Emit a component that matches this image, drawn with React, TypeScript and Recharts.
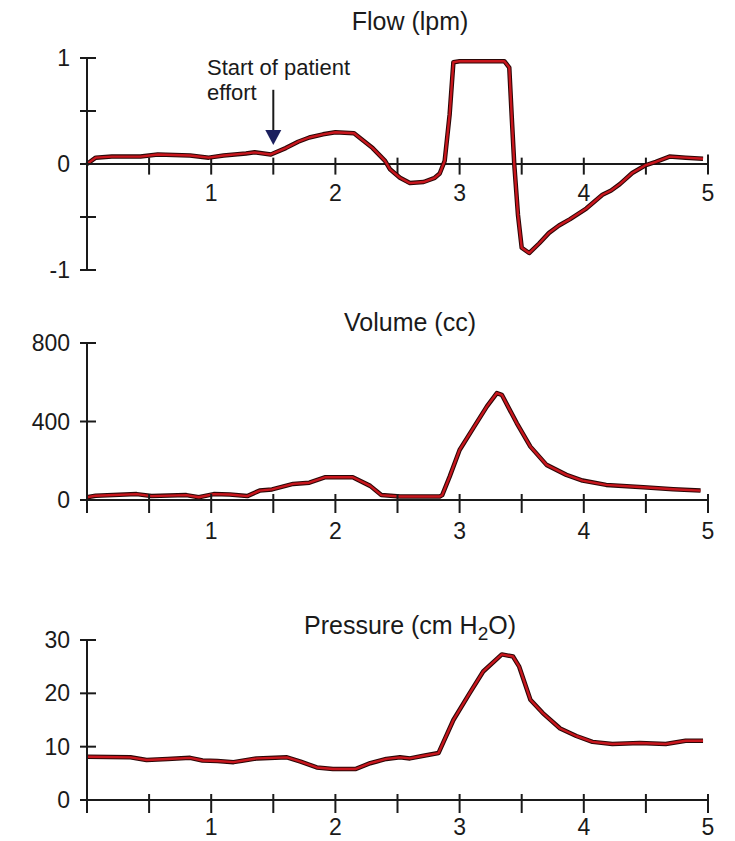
import React from 'react';
import { LineChart, Line, XAxis, YAxis, ReferenceLine, ReferenceDot } from 'recharts';

const FONT = "'Liberation Sans', Arial, Helvetica, sans-serif";
const INK = '#1a1a1a';
const RED = '#c8161d';
const OUTLINE = '#2b0606';

// time axis (seconds)
const xTicks = [0, 0.5, 1, 1.5, 2, 2.5, 3, 3.5, 4, 4.5, 5];
const xLabels = [1, 2, 3, 4, 5];

// Flow (lpm)
const flowT = [0, 0.07, 0.2, 0.43, 0.57, 0.7, 0.83, 0.98, 1.1, 1.28, 1.35, 1.48, 1.6, 1.7, 1.79, 1.9, 2.0, 2.15, 2.3, 2.4, 2.44, 2.52, 2.6, 2.71, 2.8, 2.84, 2.88, 2.92, 2.95, 3.0, 3.36, 3.4, 3.42, 3.44, 3.47, 3.5, 3.56, 3.64, 3.72, 3.8, 3.89, 4.02, 4.15, 4.22, 4.29, 4.39, 4.5, 4.58, 4.69, 4.82, 4.96];
const flowV = [0, 0.06, 0.07, 0.07, 0.09, 0.085, 0.08, 0.06, 0.08, 0.1, 0.11, 0.09, 0.15, 0.21, 0.25, 0.28, 0.3, 0.29, 0.15, 0.03, -0.05, -0.13, -0.18, -0.17, -0.13, -0.09, 0.03, 0.47, 0.96, 0.97, 0.97, 0.91, 0.44, 0.0, -0.48, -0.79, -0.84, -0.75, -0.65, -0.58, -0.52, -0.42, -0.29, -0.25, -0.19, -0.085, -0.01, 0.02, 0.07, 0.06, 0.05];
const flowTicks = [-1, -0.5, 0, 0.5, 1];
const flowLabels = [-1, 0, 1];

// Volume (cc)
const volT = [0, 0.07, 0.4, 0.52, 0.8, 0.9, 1.02, 1.15, 1.29, 1.39, 1.49, 1.66, 1.79, 1.92, 2.14, 2.28, 2.37, 2.52, 2.84, 2.86, 2.92, 3.0, 3.11, 3.22, 3.3, 3.34, 3.46, 3.57, 3.7, 3.86, 3.99, 4.18, 4.48, 4.72, 4.94];
const volV = [14, 22, 30, 20, 25, 14, 30, 28, 20, 48, 54, 82, 88, 116, 116, 72, 25, 18, 18, 25, 119, 255, 366, 477, 545, 536, 392, 272, 179, 128, 99, 77, 65, 55, 48];
const volTicks = [0, 400, 800];

// Pressure (cm H2O)
const presT = [0, 0.35, 0.48, 0.65, 0.83, 0.93, 1.05, 1.18, 1.37, 1.61, 1.72, 1.85, 1.98, 2.16, 2.28, 2.41, 2.52, 2.6, 2.71, 2.83, 2.95, 3.08, 3.19, 3.34, 3.43, 3.48, 3.57, 3.67, 3.81, 3.94, 4.07, 4.23, 4.45, 4.66, 4.82, 4.96];
const presV = [8.1, 8.0, 7.5, 7.7, 7.9, 7.4, 7.3, 7.1, 7.8, 8.0, 7.2, 6.1, 5.8, 5.8, 6.9, 7.7, 8.0, 7.8, 8.3, 8.8, 15, 20, 24.1, 27.3, 26.9, 25, 18.8, 16.3, 13.4, 12, 10.9, 10.5, 10.7, 10.5, 11.1, 11.1];
const presTicks = [0, 10, 20, 30];

const zip = (t: number[], v: number[]) => t.map((tt, i) => ({ t: tt, v: v[i] }));

const makeXTick = (labelDy: number) => (props: any) => {
  const { x, y, payload } = props;
  const val = payload.value;
  return (
    <g>
      <line x1={x} x2={x} y1={y - 6} y2={y + 13} stroke={INK} strokeWidth={2} />
      {xLabels.includes(val) && (
        <text x={x} y={y + labelDy} textAnchor="middle" fontSize={23} fontFamily={FONT} fill={INK}>
          {val}
        </text>
      )}
    </g>
  );
};

const makeYTick = (labels: number[]) => (props: any) => {
  const { x, y, payload } = props;
  const val = payload.value;
  return (
    <g>
      <line x1={x - 7} x2={x + 9} y1={y} y2={y} stroke={INK} strokeWidth={2} />
      {labels.includes(val) && (
        <text x={x - 17} y={y + 8} textAnchor="end" fontSize={23} fontFamily={FONT} fill={INK}>
          {val}
        </text>
      )}
    </g>
  );
};

const traces = (key: string) => [
  <Line key={key + 'o'} type="linear" dataKey="v" stroke={OUTLINE} strokeWidth={4.5} dot={false} isAnimationActive={false} strokeLinejoin="round" />,
  <Line key={key + 'r'} type="linear" dataKey="v" stroke={RED} strokeWidth={2.4} dot={false} isAnimationActive={false} strokeLinejoin="round" />,
];

const titleStyle: React.CSSProperties = {
  position: 'absolute',
  left: 210,
  width: 400,
  textAlign: 'center',
  fontFamily: FONT,
  fontSize: 25,
  lineHeight: '30px',
  color: INK,
  whiteSpace: 'nowrap',
  zIndex: 2,
};

const axisLine = { stroke: INK, strokeWidth: 2 };

export default function App() {
  const flowData = zip(flowT, flowV);
  const volData = zip(volT, volV);
  const presData = zip(presT, presV);

  return (
    <div style={{ position: 'absolute', left: 0, top: 0, width: 735, height: 841, background: '#fff', overflow: 'hidden' }}>
      <div style={{ ...titleStyle, top: 6 }}>Flow (lpm)</div>
      <div style={{ ...titleStyle, top: 307 }}>Volume (cc)</div>
      <div style={{ ...titleStyle, top: 610 }}>
        Pressure (cm H<span style={{ fontSize: 19, position: 'relative', top: 6 }}>2</span>O)
      </div>
      <div
        style={{
          position: 'absolute',
          left: 207,
          top: 55,
          fontFamily: FONT,
          fontSize: 22,
          lineHeight: '25px',
          color: INK,
          zIndex: 2,
        }}
      >
        Start of patient
        <br />
        effort
      </div>

      <div style={{ position: 'absolute', left: 0, top: 0 }}>
        <LineChart width={735} height={300} data={flowData} margin={{ top: 58, right: 27, bottom: 30, left: 0 }}>
          <XAxis type="number" dataKey="t" domain={[0, 5]} hide />
          <YAxis
            type="number"
            domain={[-1, 1]}
            ticks={flowTicks}
            interval={0}
            width={87}
            tickSize={0}
            tickMargin={0}
            tickLine={false}
            axisLine={axisLine}
            tick={makeYTick(flowLabels)}
          />
          <ReferenceLine y={0} stroke={INK} strokeWidth={2} />
          {xTicks.slice(1).map((t) => (
            <ReferenceLine
              key={'ft' + t}
              segment={[{ x: t, y: t === 5 ? 0.09 : 0.06 }, { x: t, y: -0.1 }]}
              stroke={INK}
              strokeWidth={2}
            />
          ))}
          {xLabels.map((t) => (
            <ReferenceDot
              key={'fl' + t}
              x={t}
              y={-0.276}
              r={0}
              shape={(p: any) => (
                <text x={p.cx} y={p.cy + 8} textAnchor="middle" fontSize={23} fontFamily={FONT} fill={INK}>
                  {t}
                </text>
              )}
            />
          ))}
          <ReferenceLine segment={[{ x: 1.5, y: 0.7 }, { x: 1.5, y: 0.3 }]} stroke={INK} strokeWidth={2} />
          <ReferenceDot
            x={1.5}
            y={0.18}
            r={0}
            shape={(p: any) => (
              <path d={`M${p.cx - 8},${p.cy - 15}L${p.cx + 8},${p.cy - 15}L${p.cx},${p.cy}Z`} fill="#1b1f5e" />
            )}
          />
          {traces('flow')}
        </LineChart>
      </div>

      <div style={{ position: 'absolute', left: 0, top: 300 }}>
        <LineChart width={735} height={260} data={volData} margin={{ top: 43, right: 27, bottom: 0, left: 0 }}>
          <XAxis
            type="number"
            dataKey="t"
            domain={[0, 5]}
            ticks={xTicks}
            interval={0}
            height={60}
            tickSize={0}
            tickMargin={0}
            tickLine={false}
            axisLine={axisLine}
            tick={makeXTick(39)}
          />
          <YAxis
            type="number"
            domain={[0, 800]}
            ticks={volTicks}
            interval={0}
            width={87}
            tickSize={0}
            tickMargin={0}
            tickLine={false}
            axisLine={axisLine}
            tick={makeYTick(volTicks)}
          />
          {traces('vol')}
        </LineChart>
      </div>

      <div style={{ position: 'absolute', left: 0, top: 560 }}>
        <LineChart width={735} height={281} data={presData} margin={{ top: 80, right: 27, bottom: 0, left: 0 }}>
          <XAxis
            type="number"
            dataKey="t"
            domain={[0, 5]}
            ticks={xTicks}
            interval={0}
            height={41}
            tickSize={0}
            tickMargin={0}
            tickLine={false}
            axisLine={axisLine}
            tick={makeXTick(35)}
          />
          <YAxis
            type="number"
            domain={[0, 30]}
            ticks={presTicks}
            interval={0}
            width={87}
            tickSize={0}
            tickMargin={0}
            tickLine={false}
            axisLine={axisLine}
            tick={makeYTick(presTicks)}
          />
          {traces('pres')}
        </LineChart>
      </div>
    </div>
  );
}
